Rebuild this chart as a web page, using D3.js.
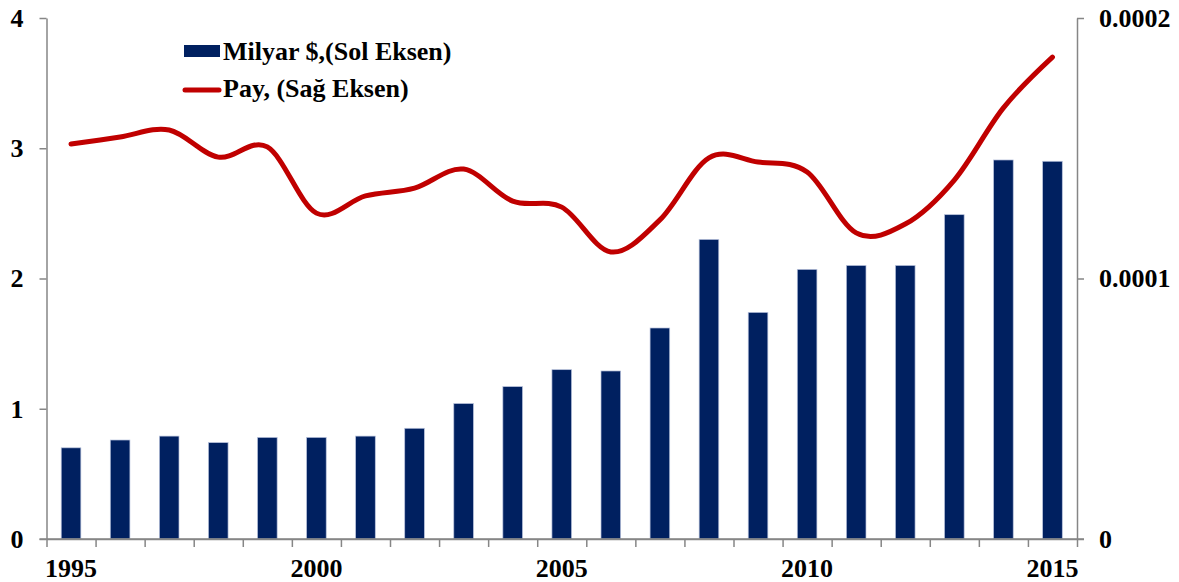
<!DOCTYPE html>
<html>
<head>
<meta charset="utf-8">
<script src="https://cdn.jsdelivr.net/npm/d3@7"></script>
<style>
  html, body { margin: 0; padding: 0; background: #fff; }
  svg { display: block; }
  svg text { font-family: "Liberation Serif", "Times New Roman", Tinos, Times, "DejaVu Serif", serif !important; font-weight: bold; fill: #000; }
</style>
</head>
<body>
<svg id="chart" width="1179" height="582"></svg>
<script>
// ---- data ----
const years = [1995,1996,1997,1998,1999,2000,2001,2002,2003,2004,2005,2006,2007,2008,2009,2010,2011,2012,2013,2014,2015];
const milyarUSD = [0.70,0.76,0.79,0.74,0.78,0.78,0.79,0.85,1.04,1.17,1.30,1.29,1.62,2.30,1.74,2.07,2.10,2.10,2.49,2.91,2.90];
const pay = [0.0001516,0.0001543,0.0001570,0.0001466,0.0001505,0.0001251,0.0001317,0.0001347,0.0001420,0.0001297,0.0001274,0.0001102,0.0001225,0.0001463,0.0001447,0.0001409,0.0001175,0.0001209,0.0001378,0.0001655,0.0001850];
const leftTicks = [0,1,2,3,4];
const rightTicks = [0,0.0001,0.0002];
const rightTickLabels = ["0","0.0001","0.0002"];
const xLabelYears = [1995,2000,2005,2010,2015];
const legendLabels = ["Milyar $,(Sol Eksen)", "Pay, (Sağ Eksen)"];

// ---- layout ----
const X0 = 46.5, X1 = 1077, Y0 = 539, Y1 = 18;
const barColor = "#002060", lineColor = "#C00000", axisColor = "#868686";
const fontSize = 26;
const serif = '"Liberation Serif", "Times New Roman", Tinos, Times, "DejaVu Serif", serif';

const svg = d3.select("#chart");

const x = d3.scaleBand().domain(years).range([X0, X1]).padding(0);
const xIdx = d3.scaleLinear().domain([0, years.length]).range([X0, X1]);
const yL = d3.scaleLinear().domain([0, 4]).range([Y0, Y1]);
const yR = d3.scaleLinear().domain([0, 0.0002]).range([Y0, Y1]);

// bars
const bw = x.bandwidth() * 0.4;
svg.append("g").selectAll("rect").data(years).join("rect")
  .attr("x", (d) => x(d) + x.bandwidth()/2 - bw/2)
  .attr("y", (d, i) => yL(milyarUSD[i]))
  .attr("width", bw)
  .attr("height", (d, i) => Y0 - yL(milyarUSD[i]))
  .attr("fill", barColor)
  .attr("stroke", "#b8c2dc")
  .attr("stroke-width", 0.7);

// line
const line = d3.line()
  .x((d, i) => x(years[i]) + x.bandwidth()/2)
  .y((d) => yR(d))
  .curve(d3.curveCardinal.tension(0));
svg.append("path").datum(pay)
  .attr("d", line)
  .attr("fill", "none")
  .attr("stroke", lineColor)
  .attr("stroke-width", 5)
  .attr("stroke-linecap", "round")
  .attr("stroke-linejoin", "round");

function styleAxis(g) {
  g.attr("font-family", serif).attr("font-size", fontSize).attr("font-weight", "bold");
  g.selectAll("path, line").attr("stroke", axisColor).attr("stroke-width", 1.5);
  g.selectAll("text").attr("font-family", serif).attr("font-size", fontSize).attr("font-weight", "bold").attr("fill", "#000");
}

// left axis
svg.append("g").attr("transform", `translate(${X0},0)`)
  .call(d3.axisLeft(yL).tickValues(leftTicks).tickSize(7).tickSizeOuter(0).tickPadding(16).tickFormat(d3.format("d")))
  .call(styleAxis);

// right axis
svg.append("g").attr("transform", `translate(${X1},0)`)
  .call(d3.axisRight(yR).tickValues(rightTicks).tickSize(7).tickSizeOuter(0).tickPadding(15).tickFormat((d, i) => rightTickLabels[i]))
  .call(styleAxis);

// bottom axis (boundary ticks)
svg.append("g").attr("transform", `translate(0,${Y0})`)
  .call(d3.axisBottom(xIdx).tickValues(d3.range(years.length + 1)).tickSize(8).tickSizeOuter(0).tickFormat(""))
  .call(styleAxis);
svg.append("line").attr("x1", X0 - 7).attr("x2", X1 + 7).attr("y1", Y0).attr("y2", Y0)
  .attr("stroke", axisColor).attr("stroke-width", 1.5);

// x labels
svg.append("g").selectAll("text").data(xLabelYears).join("text")
  .attr("x", (d) => x(d) + x.bandwidth()/2)
  .attr("y", 577)
  .attr("text-anchor", "middle")
  .attr("font-family", serif).attr("font-size", fontSize).attr("font-weight", "bold")
  .text((d) => d);

// legend
const lg = svg.append("g");
lg.append("rect").attr("x", 184).attr("y", 45).attr("width", 36).attr("height", 12).attr("fill", barColor);
lg.append("line").attr("x1", 185).attr("x2", 219).attr("y1", 90).attr("y2", 90)
  .attr("stroke", lineColor).attr("stroke-width", 5).attr("stroke-linecap", "round");
lg.selectAll("text").data(legendLabels).join("text")
  .attr("x", 223)
  .attr("y", (d, i) => 60 + i * 37)
  .attr("font-family", serif).attr("font-size", fontSize).attr("font-weight", "bold")
  .text((d) => d);
</script>
</body>
</html>
